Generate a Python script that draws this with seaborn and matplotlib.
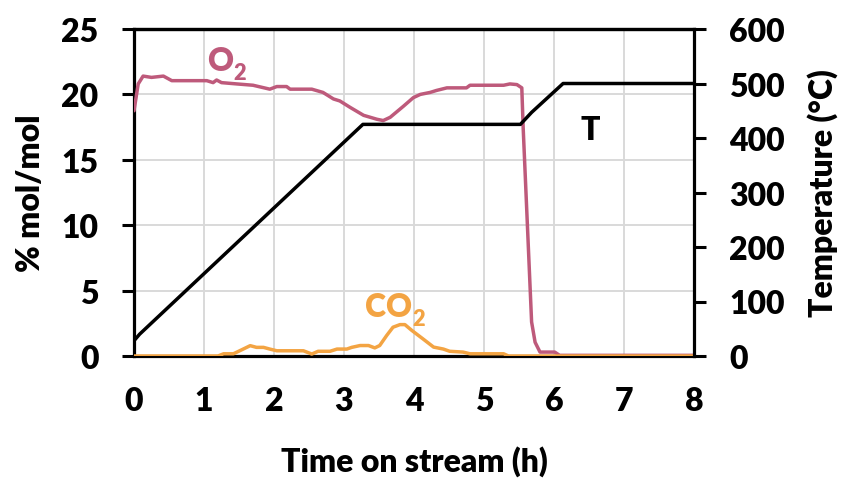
import matplotlib
matplotlib.use("Agg")
import matplotlib.pyplot as plt
import seaborn as sns
import pandas as pd

# ---- data ----
t_o2 = [0.0, 0.06, 0.13, 0.25, 0.42, 0.54, 1.04, 1.13, 1.18, 1.25, 1.47, 1.70, 1.94, 2.04, 2.18,
        2.23, 2.54, 2.70, 2.85, 2.94, 3.09, 3.28, 3.47, 3.56, 3.66, 3.85, 3.99, 4.09, 4.23,
        4.32, 4.47, 4.75, 4.80, 5.28, 5.37, 5.47, 5.54, 5.56, 5.68, 5.73, 5.80, 6.01, 6.08, 8.0]
o2 = [18.75, 20.8, 21.4, 21.3, 21.4, 21.05, 21.05, 20.9, 21.1, 20.9, 20.8, 20.7, 20.4, 20.6, 20.6,
      20.4, 20.4, 20.15, 19.65, 19.5, 19.0, 18.4, 18.1, 18.0, 18.25, 19.1, 19.75, 20.0, 20.15,
      20.3, 20.5, 20.5, 20.7, 20.7, 20.8, 20.75, 20.5, 17.4, 2.6, 1.05, 0.3, 0.3, 0.05, 0.05]

t_co2 = [0.0, 1.20, 1.28, 1.42, 1.51, 1.66, 1.75, 1.85, 1.94, 2.04, 2.42, 2.54, 2.63, 2.80, 2.90,
         3.04, 3.11, 3.23, 3.35, 3.44, 3.51, 3.61, 3.70, 3.80, 3.87, 3.97, 4.13, 4.28, 4.42,
         4.51, 4.70, 4.80, 5.28, 5.35, 8.0]
co2 = [0.0, 0.0, 0.17, 0.17, 0.4, 0.79, 0.66, 0.66, 0.53, 0.40, 0.40, 0.15, 0.36, 0.36, 0.53,
       0.53, 0.66, 0.8, 0.8, 0.62, 0.8, 1.57, 2.2, 2.4, 2.4, 1.95, 1.3, 0.68, 0.53,
       0.36, 0.3, 0.17, 0.17, 0.0, 0.0]

t_T = [0.0, 0.08, 3.27, 5.52, 5.68, 6.13, 8.0]
temp = [28, 40, 425, 425, 447, 500, 500]

x_ticks = [0, 1, 2, 3, 4, 5, 6, 7, 8]
y_ticks = [0, 5, 10, 15, 20, 25]
y2_ticks = [0, 100, 200, 300, 400, 500, 600]

C_O2 = "#BE5A7B"
C_CO2 = "#F3A443"

sns.set_style("white")
FONT = "Lato"
plt.rcParams["font.family"] = [FONT, "DejaVu Sans"]
W = "heavy"

fig = plt.figure(figsize=(8.45, 4.81), dpi=100)
ax = fig.add_axes([134 / 845, 1 - 357 / 481, (694 - 134) / 845, (357 - 30) / 481])
ax2 = ax.twinx()

df_o2 = pd.DataFrame({"t": t_o2, "v": o2})
df_co2 = pd.DataFrame({"t": t_co2, "v": co2})
df_T = pd.DataFrame({"t": t_T, "v": temp})

sns.lineplot(data=df_o2, x="t", y="v", ax=ax, color=C_O2, lw=2.5, sort=False, zorder=3)
sns.lineplot(data=df_co2, x="t", y="v", ax=ax, color=C_CO2, lw=2.5, sort=False, zorder=4)
sns.lineplot(data=df_T, x="t", y="v", ax=ax2, color="black", lw=2.5, sort=False)

ax.set_xlim(0, 8)
ax.set_ylim(0, 25)
ax2.set_ylim(0, 600)
ax.set_xticks(x_ticks)
ax.set_yticks(y_ticks)
ax2.set_yticks(y2_ticks)

ax.grid(True, color="#D9D9D9", lw=1.4)
ax.set_axisbelow(True)
ax2.grid(False)

for a in (ax, ax2):
    for s in a.spines.values():
        s.set_color("black")
        s.set_linewidth(2.3)
ax.spines["right"].set_visible(False)
ax2.spines["left"].set_visible(False)
ax2.spines["bottom"].set_visible(False)

fs = 23
ax.tick_params(axis="y", direction="out", length=8.5, width=2.2, pad=17, labelsize=fs, colors="black")
ax.tick_params(axis="x", direction="out", length=8.5, width=2.2, pad=13, labelsize=fs, colors="black")
ax2.tick_params(axis="y", direction="out", length=8.5, width=2.2, pad=17, labelsize=fs, colors="black")
for lab in ax.get_xticklabels() + ax.get_yticklabels() + ax2.get_yticklabels():
    lab.set_fontweight(W)

ax.set_xlabel("Time on stream (h)", fontsize=fs, fontweight=W, labelpad=22, color="black")
ax.set_ylabel("% mol/mol", fontsize=fs, fontweight=W, labelpad=12, color="black")
ax2.set_ylabel("Temperature (°C)", fontsize=fs, fontweight=W, labelpad=16, color="black")


def label_with_sub(x, y, main, sub, color):
    t = ax.text(x, y, main, color=color, fontsize=fs, fontweight=W, ha="left", va="baseline")
    ax.annotate(sub, xy=(1.0, 0.0), xycoords=t, xytext=(0.5, -3), textcoords="offset points",
                color=color, fontsize=fs * 0.68, fontweight=W, ha="left", va="baseline")
    return t


label_with_sub(1.04, 21.85, "O", "2", C_O2)
label_with_sub(3.30, 3.06, "CO", "2", C_CO2)
ax.text(6.52, 17.3, "T", color="black", fontsize=fs, fontweight=W, ha="center", va="center")

fig.savefig("out.png", dpi=100)
